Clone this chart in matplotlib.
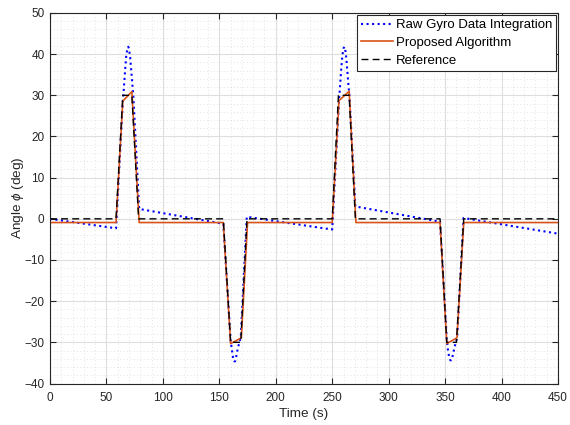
import matplotlib
matplotlib.use("Agg")
import matplotlib.pyplot as plt
from matplotlib.ticker import MultipleLocator

plt.rcParams['font.family'] = ['Liberation Sans', 'DejaVu Sans']
plt.rcParams['mathtext.fontset'] = 'custom'
plt.rcParams['mathtext.it'] = 'Liberation Sans:italic'

# Reference
t_ref = [0, 58.5, 64.5, 72.5, 78.5, 153.5, 160, 169, 174.5, 250, 255.5, 265, 270.5,
         345.5, 351.5, 360, 366.5, 450]
v_ref = [0, 0, 30, 30, 0, 0, -30, -30, 0, 0, 30, 30, 0, 0, -30, -30, 0, 0]

# Proposed algorithm
t_prop = [0, 58.5, 64.5, 72.5, 79, 153.5, 160, 169.5, 175, 250, 256, 265, 271,
          345.5, 351.5, 360.5, 366.5, 450]
v_prop = [-0.9, -0.9, 28.6, 30.9, -0.9, -0.9, -30.3, -28.9, -0.9, -0.9, 28.7, 31.0, -0.9,
          -0.9, -30.3, -28.9, -0.9, -0.9]

# Raw gyro data integration
t_raw = [0, 58.5, 64.5, 65.5, 66.5, 67.5, 68.5, 69.3, 70, 71, 72, 73, 73.8, 79,
         153.5, 160, 161, 162, 163, 164, 165, 166, 167, 168, 169, 174.3,
         250, 256, 257, 258, 259, 260, 260.7, 261.5, 262.5, 263.5, 264.5, 265.2, 270.5,
         345.5, 351.5, 352.5, 353.5, 354.5, 355.3, 356.3, 357.3, 358.5, 359.5, 360.7, 366.3,
         450]
v_raw = [0, -2.3, 28.5, 32, 36, 39.5, 41.3, 41.8, 41.3, 39.2, 36, 32.5, 30, 2.4,
         -1.2, -29.5, -31.5, -33.5, -34.6, -34.6, -33.4, -32, -30.8, -29.8, -28.6, 0.5,
         -2.6, 28.5, 32.5, 36.5, 39.7, 41.4, 41.8, 41.2, 39, 35.5, 32, 30, 3.0,
         -0.7, -29.5, -31.8, -33.5, -34.3, -34.4, -33.8, -32.5, -31, -30, -28.8, 0.2,
         -3.6]

labels = ["Raw Gyro Data Integration", "Proposed Algorithm", "Reference"]

fig = plt.figure(figsize=(5.7, 4.25), dpi=100)
ax = fig.add_axes([50/570, 1-383.5/425, 508/570, 370.5/425])

ax.plot(t_raw, v_raw, color=(0, 0, 1), linestyle=':', linewidth=1.5, label=labels[0])
ax.plot(t_prop, v_prop, color=(0.85, 0.325, 0.098), linestyle='-', linewidth=1.2, label=labels[1])
ax.plot(t_ref, v_ref, color='black', linestyle=(0, (5, 3)), linewidth=1.0, label=labels[2])

ax.set_xlim(0, 450)
ax.set_ylim(-40, 50)
ax.xaxis.set_major_locator(MultipleLocator(50))
ax.yaxis.set_major_locator(MultipleLocator(10))
ax.xaxis.set_minor_locator(MultipleLocator(10))
ax.yaxis.set_minor_locator(MultipleLocator(2))
ax.grid(True, which='major', color='#dedede', linewidth=0.8, linestyle='-')
ax.grid(True, which='minor', color='#d9d9d9', linewidth=0.6, linestyle=(0, (1, 3)))
ax.set_axisbelow(True)
ax.tick_params(which='major', direction='in', length=4, width=0.8, top=True, right=True,
               labelsize=8.5, colors='#262626')
ax.tick_params(axis='x', which='major', pad=6)
ax.tick_params(axis='y', which='major', pad=4)
ax.tick_params(which='minor', length=0, top=True, right=True)
for s in ax.spines.values():
    s.set_color('#262626')
    s.set_linewidth(0.8)

ax.set_xlabel("Time (s)", fontsize=9.7, color='#262626', labelpad=3)
ax.set_ylabel(r"Angle $\phi$ (deg)", fontsize=9.7, color='#262626', labelpad=-1)

leg = ax.legend(loc='upper right', fontsize=9.5, frameon=True, fancybox=False,
                borderaxespad=0.15, borderpad=0.3, labelspacing=0.42, handlelength=2.4,
                handletextpad=0.2)
leg.get_frame().set_edgecolor('#262626')
leg.get_frame().set_linewidth(0.8)
leg.get_frame().set_alpha(1)

fig.savefig("out.png", dpi=100)
